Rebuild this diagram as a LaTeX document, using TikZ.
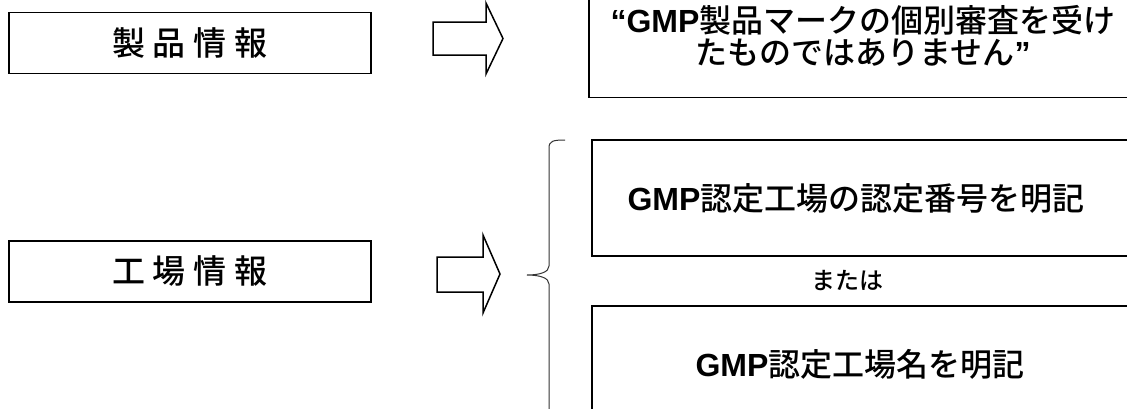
\documentclass[tikz,border=0pt]{standalone}
\usepackage{fontspec}
\newfontfamily\jp{Noto Sans CJK JP Medium}
\newfontfamily\lat{Liberation Sans}
\newcommand\gap{\hspace{8pt}}
\tikzset{
  labelbox/.style={draw,line width=1.6pt,minimum width=362pt,minimum height=61pt,
    inner sep=0pt,font=\jp\fontsize{33}{35}\selectfont},
  notebox/.style={draw,line width=1.6pt,inner sep=0pt,align=center,
    font=\jp\fontsize{32}{33}\selectfont},
  blockarrow/.style={line width=1.5pt,line join=miter},
  bracestyle/.style={line width=1pt,black!80}
}
\begin{document}
\begin{tikzpicture}[x=1pt,y=-1pt]
  \clip (0,0) rectangle (1127,408);

  % Left labels
  \node[labelbox] (prod) at (190,43) {製\gap 品\gap 情\gap 報\hspace{18pt}};
  \node[labelbox] (fact) at (190,271.5) {工\gap 場\gap 情\gap 報\hspace{45pt}};

  % Block arrows
  \draw[blockarrow] (433,22) -- (486,22) -- (486,3) -- (503,38.5) -- (486,74)
    -- (486,55) -- (433,55) -- cycle;
  \draw[blockarrow] (437,257) -- (483,257) -- (483,235) -- (500,274) -- (483,313)
    -- (483,292) -- (437,292) -- cycle;

  % Product note
  \node[notebox,minimum width=548pt,minimum height=123pt,
    font=\jp\fontsize{32}{32}\selectfont] (note) at (863,36)
    {{\lat\bfseries “GMP}製品マークの個別審査を受け\\たものではありません{\lat\bfseries ”}};

  % Brace
  \draw[bracestyle] (565,140) .. controls (553,140) and (549,141) .. (549,148)
    -- (549,266) .. controls (549,272) and (540,275) .. (527,275)
    .. controls (540,275) and (549,278) .. (549,284)
    -- (549,412) .. controls (549,419) and (553,420) .. (565,420);

  % Factory choices
  \node[notebox,minimum width=540pt,minimum height=116pt] (num) at (862,198)
    {{\lat\bfseries GMP}認定工場の認定番号を明記\hspace{12pt}};
  \node[font=\jp\fontsize{24}{26}\selectfont] (or) at (847,281) {または};
  \node[notebox,minimum width=540pt,minimum height=116pt] (name) at (862,364)
    {{\lat\bfseries GMP}認定工場名を明記\hspace{4pt}};
\end{tikzpicture}
\end{document}
